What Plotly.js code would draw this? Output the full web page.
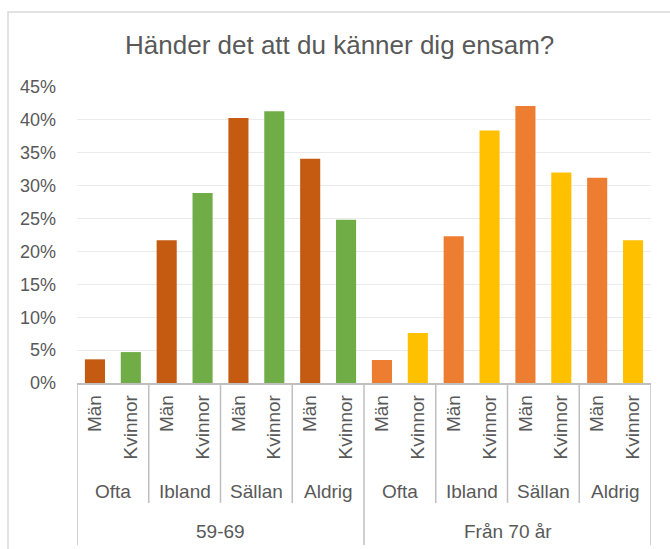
<!DOCTYPE html>
<html>
<head>
<meta charset="utf-8">
<script src="https://cdn.plot.ly/plotly-3.0.1.min.js"></script>
<style>html,body{margin:0;padding:0;background:#fff;}#chart{width:670px;height:549px;}</style>
</head>
<body>
<div id="chart"></div>
<script>
// ---- data ----
const groups = ["59-69", "Från 70 år"];
const answers = ["Ofta", "Ibland", "Sällan", "Aldrig"];
const genders = ["Män", "Kvinnor"];
const man_5969 = [3.6, 21.7, 40.3, 34.1];
const kvinnor_5969 = [4.7, 28.9, 41.3, 24.8];
const man_70 = [3.5, 22.3, 42.1, 31.2];
const kvinnor_70 = [7.6, 38.4, 32.0, 21.7];
const titleText = "Händer det att du känner dig ensam?";
const yTickVals = [0, 5, 10, 15, 20, 25, 30, 35, 40, 45];

// ---- styles ----
const colors = {
  "59-69": {"Män": "#C55A11", "Kvinnor": "#70AD47"},
  "Från 70 år": {"Män": "#ED7D31", "Kvinnor": "#FFC000"}
};
const seriesByGroup = {
  "59-69": {"Män": man_5969, "Kvinnor": kvinnor_5969},
  "Från 70 år": {"Män": man_70, "Kvinnor": kvinnor_70}
};
const textColor = "#595959";
const font = "Liberation Sans, Arial, sans-serif";

const xs = [], ys = [], cols = [], tickText = [];
let idx = 0;
groups.forEach(g => {
  answers.forEach((a, ai) => {
    genders.forEach(s => {
      xs.push(idx);
      ys.push(seriesByGroup[g][s][ai] / 100);
      cols.push(colors[g][s]);
      tickText.push(s);
      idx++;
    });
  });
});

const trace = {
  type: "bar",
  x: xs,
  y: ys,
  width: 0.56,
  marker: {color: cols, line: {width: 0}},
  hoverinfo: "y"
};

const shapes = [];
const annotations = [];
const nPerGroup = answers.length * genders.length;
const lineColor = "#BFBFBF";
// divider lines
for (let k = 0; k <= xs.length; k += genders.length) {
  const isLong = (k % nPerGroup === 0);
  shapes.push({
    type: "line", xref: "x", yref: "paper",
    x0: k - 0.5, x1: k - 0.5,
    y0: 0, y1: isLong ? -0.547 : -0.405,
    line: {color: lineColor, width: 1.5}
  });
}
// answer labels
groups.forEach((g, gi) => {
  answers.forEach((a, ai) => {
    const c = gi * nPerGroup + ai * genders.length + (genders.length - 1) / 2;
    annotations.push({
      x: c, xref: "x", y: -0.365, yref: "paper",
      text: a, showarrow: false, xanchor: "center", yanchor: "middle",
      font: {family: font, size: 19, color: textColor}
    });
  });
  const gc = gi * nPerGroup + (nPerGroup - 1) / 2;
  annotations.push({
    x: gc, xref: "x", y: -0.5, yref: "paper",
    text: g, showarrow: false, xanchor: "center", yanchor: "middle",
    font: {family: font, size: 19, color: textColor}
  });
});
// outer chart border
shapes.push({
  type: "rect", xref: "paper", yref: "paper",
  x0: -0.1202, x1: 1.05, y0: -0.7, y1: 1.2534,
  line: {color: "#D9D9D9", width: 1.5}, fillcolor: "rgba(0,0,0,0)", layer: "below"
});

const layout = {
  width: 670, height: 549,
  margin: {l: 77, r: 19, t: 87, b: 166, pad: 0},
  paper_bgcolor: "#ffffff",
  plot_bgcolor: "#ffffff",
  showlegend: false,
  title: {
    text: titleText,
    x: 0.507, xanchor: "center", xref: "container",
    y: 1 - 45 / 549, yanchor: "middle", yref: "container",
    font: {family: font, size: 26, color: textColor}
  },
  xaxis: {
    range: [-0.5, xs.length - 0.5],
    tickmode: "array",
    tickvals: xs,
    ticktext: tickText,
    tickangle: -90,
    ticks: "",
    ticklabelstandoff: 3,
    tickfont: {family: font, size: 19, color: textColor},
    showgrid: false,
    zeroline: false,
    showline: true,
    linecolor: lineColor,
    linewidth: 1.5,
    fixedrange: true
  },
  yaxis: {
    range: [0, 0.45],
    tickmode: "array",
    tickvals: yTickVals.map(v => v / 100),
    ticktext: yTickVals.map(v => v + "%"),
    ticks: "",
    ticklabelstandoff: 20,
    tickfont: {family: font, size: 18, color: textColor},
    showgrid: true,
    gridcolor: "#EBEBEB",
    gridwidth: 1,
    zeroline: false,
    showline: false,
    fixedrange: true
  },
  bargap: 0.44,
  shapes: shapes,
  annotations: annotations
};

Plotly.newPlot("chart", [trace], layout, {displayModeBar: false, staticPlot: true});
</script>
</body>
</html>
